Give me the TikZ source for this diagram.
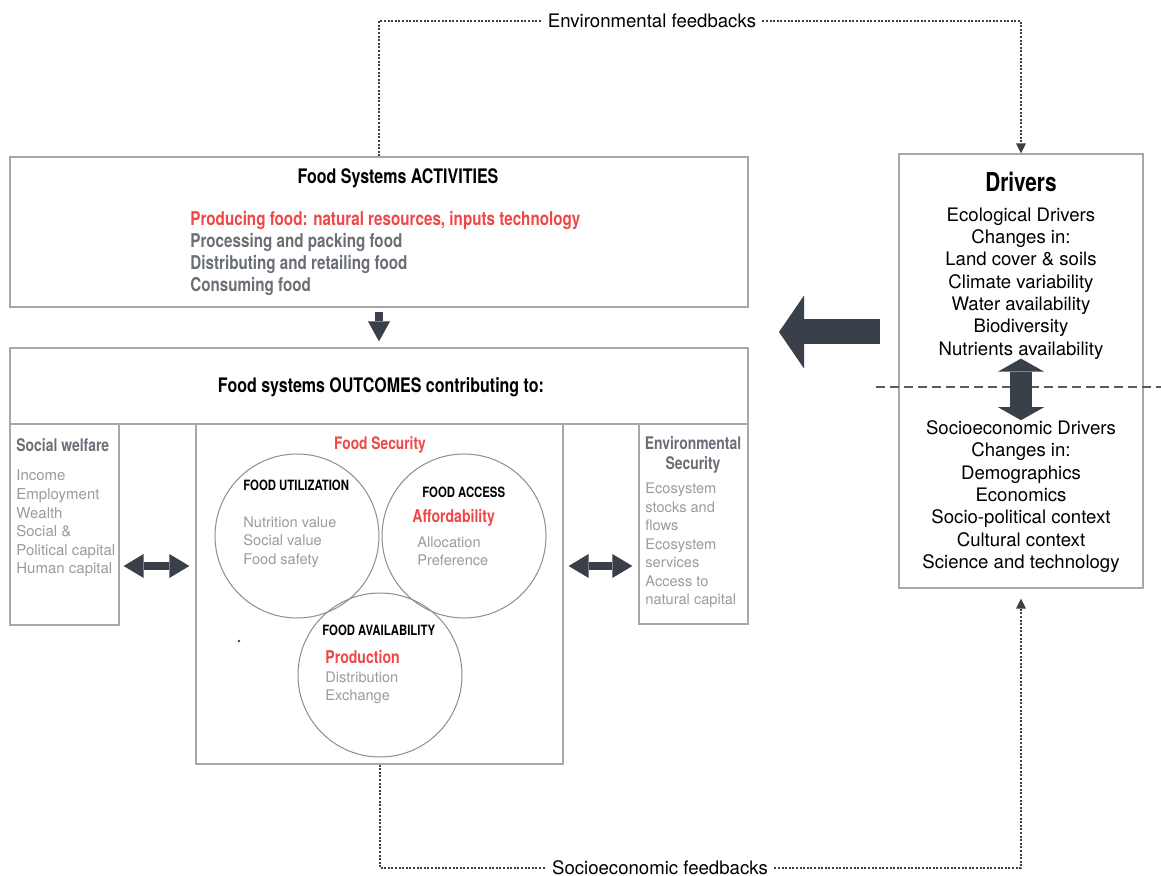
\documentclass[tikz,border=0pt]{standalone}
\usepackage{fontspec}
\setmainfont{TeX Gyre Heros}
\newfontfamily\condfont[FakeStretch=0.8]{TeX Gyre Heros}
\usetikzlibrary{arrows.meta}
\definecolor{fred}{HTML}{F04646}
\definecolor{fdark}{HTML}{3A4049}
\definecolor{fgray}{HTML}{6A6E76}
\definecolor{flight}{HTML}{9B9B9B}
\definecolor{fline}{HTML}{A8A8A8}
\newcommand\fsz[2]{\fontsize{#1}{#2}\selectfont}

\begin{document}
\begin{tikzpicture}[x=0.5pt,y=-0.5pt,
    box/.style={draw=fline,line width=0.6pt,inner sep=0pt},
    ring/.style={circle,draw=black!45,line width=0.5pt,minimum size=82pt,inner sep=0pt},
    txt/.style={inner sep=0pt,align=left,anchor=west},
    head/.style={inner sep=0pt,font=\condfont\bfseries\fsz{10}{12}},
    ringcap/.style={txt,font=\condfont\bfseries\fsz{7.1}{9}},
    sub/.style={txt,text=fred,font=\condfont\bfseries\fsz{8.8}{10}},
    item/.style={txt,text=flight,font=\fsz{7.3}{9.25}},
    fbl/.style={inner sep=3pt,font=\fsz{9.3}{11}},
    fb/.style={draw=fdark,line width=1pt,dash pattern=on 1pt off 0.8pt,-{Triangle[width=5pt,length=5pt,line width=0pt]}},
    fat/.style={draw=fdark,line width=4pt,-{Triangle[width=11pt,length=10pt,line width=0pt]}},
    both/.style={draw=fdark,line width=4pt,{Triangle[width=12pt,length=10pt,line width=0pt]}-{Triangle[width=12pt,length=10pt,line width=0pt]}}]
    \useasboundingbox (0,0) rectangle (1161,876);
    \node[box,minimum width=369pt,minimum height=75pt] (act) at (379,232) {};
    \node[box,minimum width=369pt,minimum height=38pt] (out) at (379,386) {};
    \node[box,minimum width=54.5pt,minimum height=100.5pt] (sw) at (64.5,524.5) {};
    \node[box,minimum width=183.5pt,minimum height=170pt] (fs) at (379.5,594) {};
    \node[box,minimum width=54.5pt,minimum height=100pt] (es) at (693.5,524) {};
    \node[box,minimum width=122pt,minimum height=217pt] (drv) at (1021,371) {};
    \node[ring] (fu) at (297,536) {};
    \node[ring] (fa) at (464,536) {};
    \node[ring] (fv) at (380,675) {};

    \node[head] (at) at (398,178) {Food Systems ACTIVITIES};
    \node[txt,text=fgray,font=\condfont\bfseries\fsz{9.5}{11.15}] (al) at (190,253.5)
        {\color{fred}Producing food: natural resources, inputs technology\\Processing and packing food\\Distributing and retailing food\\Consuming food};
    \node[head] (ot) at (381,387) {Food systems OUTCOMES contributing to:};

    \node[txt,text=fgray,font=\condfont\bfseries\fsz{8.7}{10}] (swt) at (16,445) {Social welfare};
    \node[txt,text=flight,font=\fsz{7.5}{9.3}] (swl) at (16,523.5) {Income\\Employment\\Wealth\\Social \&\\Political capital\\Human capital};
    \node[inner sep=0pt,align=center,text=fgray,font=\condfont\bfseries\fsz{8.7}{10}] (est) at (693,455) {Environmental\\Security};
    \node[item] (esl) at (645,545.5) {Ecosystem\\stocks and\\flows\\Ecosystem\\services\\Access to\\natural capital};

    \node[inner sep=0pt,text=fred,font=\condfont\bfseries\fsz{8.6}{10}] (fst) at (380,445) {Food Security};
    \node[ringcap] (fut) at (243,485) {FOOD UTILIZATION};
    \node[item] (ful) at (243,542) {Nutrition value\\Social value\\Food safety};
    \node[ringcap] (fat) at (422,492) {FOOD ACCESS};
    \node[sub] (fas) at (412,518) {Affordability};
    \node[item] (fal) at (417,551.5) {Allocation\\Preference};
    \node[ringcap] (fvt) at (322,630) {FOOD AVAILABILITY};
    \node[sub] (fvs) at (325,657) {Production};
    \node[item] (fvl) at (325,688) {Distribution\\Exchange};
    \fill[fdark] (239,641) circle (0.7pt);

    \node[inner sep=0pt,font=\condfont\bfseries\fsz{13}{15}] (dt) at (1021,182) {Drivers};
    \node[inner sep=0pt,align=center,font=\fsz{9.3}{11.15}] (eco) at (1021,283.5)
        {Ecological Drivers\\Changes in:\\Land cover \& soils\\Climate variability\\Water availability\\Biodiversity\\Nutrients availability};
    \node[inner sep=0pt,align=center,font=\fsz{9.3}{11.15}] (soc) at (1021,496.5)
        {Socioeconomic Drivers\\Changes in:\\Demographics\\Economics\\Socio-political context\\Cultural context\\Science and technology};
    \draw[fdark!85,line width=1.1pt,dash pattern=on 4.5pt off 2.5pt] (876,387) -- (1161,387);
    \draw[draw=fdark,line width=11pt,{Triangle[width=23pt,length=6.5pt,line width=0pt]}-{Triangle[width=23pt,length=6.5pt,line width=0pt]},shorten <=-0.5pt,shorten >=0pt] (eco) -- (soc);

    \node[fbl] (ef) at (652,21) {Environmental feedbacks};
    \node[fbl] (sf) at (660,868) {Socioeconomic feedbacks};
    \draw[fb] (act) |- (ef) -| (drv);
    \draw[fb,shorten >=5pt] (fs) |- (sf) -| (drv);

    \coordinate (tp) at (779,332);
    \coordinate (hh) at (0,566);
    \draw[draw=fdark,line width=12.5pt,-{Triangle[width=36.5pt,length=12.5pt,line width=0pt]},shorten <=9pt] (drv.west |- tp) -- (tp);
    \draw[fat,shorten <=2pt,shorten >=3pt] (act) -- (out);
    \draw[both,shorten <=2pt,shorten >=3pt] (sw.east |- hh) -- (fs.west |- hh);
    \draw[both,shorten <=2.5pt,shorten >=3pt] (fs.east |- hh) -- (es.west |- hh);
\end{tikzpicture}
\end{document}
